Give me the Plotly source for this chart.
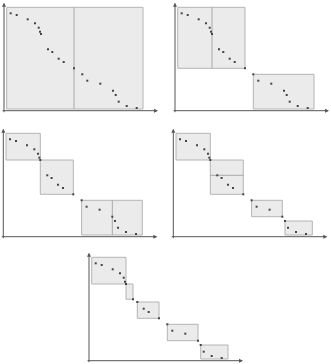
import plotly.graph_objects as go

W, H = 331, 364

# Shared point set (data units)
pts_x = [6.7, 12.7, 23.7, 31.0, 34.7, 36.0, 37.0, 44.0, 48.3, 54.7,
         59.7, 70.0, 78.3, 83.3, 96.3, 109.0, 111.7, 114.7, 122.7, 132.7]
pts_y = [97.4, 95.7, 91.4, 87.4, 83.0, 79.0, 76.7, 61.4, 58.7, 52.0,
         48.7, 42.4, 36.4, 30.0, 27.0, 20.0, 15.7, 9.0, 4.7, 2.7]
IDEAL = (2.7, 103.4)
NADIR = (139.0, 1.7)

def P(i):
    return (pts_x[i], pts_y[i])

# boxes per panel: (top-left corner, bottom-right corner, split)
panel_boxes = [
    [(IDEAL, NADIR, ("v", pts_x[11]))],
    [(IDEAL, P(11), ("v", pts_x[6])), (P(12), NADIR, None)],
    [(IDEAL, P(6), None), (P(6), P(11), None), (P(12), NADIR, ("v", pts_x[15]))],
    [(IDEAL, P(6), None), (P(6), P(11), ("h", pts_y[7])), (P(12), P(15), None), (P(16), NADIR, None)],
    [(IDEAL, P(6), None), (P(6), P(7), None), (P(8), P(11), None), (P(12), P(15), None), (P(16), NADIR, None)],
]

# panel layout in pixels: origin (ox, oy), region (L, R, T, B)
panels = [
    dict(ox=4.0, oy=110.7, L=0, R=162, T=0, B=117),
    dict(ox=175.0, oy=110.7, L=165, R=331, T=0, B=117),
    dict(ox=3.3, oy=236.7, L=0, R=162, T=120, B=243),
    dict(ox=173.3, oy=236.7, L=165, R=331, T=120, B=243),
    dict(ox=89.0, oy=360.7, L=80, R=256, T=244, B=364),
]

X_ARROW_END = 154
Y_ARROW_END = 108
AX_START = -3

fig = go.Figure()
shapes = []
annotations = []
layout = {}

for k, (pan, boxes) in enumerate(zip(panels, panel_boxes)):
    n = "" if k == 0 else str(k + 1)
    xa, ya = "x" + n, "y" + n
    layout["xaxis" + n] = dict(
        domain=[pan["L"] / W, pan["R"] / W],
        range=[pan["L"] - pan["ox"], pan["R"] - pan["ox"]],
        visible=False, anchor=ya, fixedrange=True)
    layout["yaxis" + n] = dict(
        domain=[1 - pan["B"] / H, 1 - pan["T"] / H],
        range=[pan["oy"] - pan["B"], pan["oy"] - pan["T"]],
        visible=False, anchor=xa, fixedrange=True)
    for (a, b, split) in boxes:
        shapes.append(dict(type="rect", xref=xa, yref=ya,
                           x0=a[0], x1=b[0], y0=b[1], y1=a[1],
                           fillcolor="#ebebeb", line=dict(color="#b4b4b4", width=1),
                           layer="below"))
        if split is not None:
            if split[0] == "v":
                shapes.append(dict(type="line", xref=xa, yref=ya,
                                   x0=split[1], x1=split[1], y0=b[1], y1=a[1],
                                   line=dict(color="#a8a8a8", width=1), layer="below"))
            else:
                shapes.append(dict(type="line", xref=xa, yref=ya,
                                   x0=a[0], x1=b[0], y0=split[1], y1=split[1],
                                   line=dict(color="#a8a8a8", width=1), layer="below"))
    # axes arrows
    annotations.append(dict(xref=xa, yref=ya, axref=xa, ayref=ya,
                            x=X_ARROW_END, y=0, ax=AX_START, ay=0, text="",
                            showarrow=True, arrowhead=2, arrowsize=0.8,
                            arrowwidth=1, arrowcolor="#555"))
    annotations.append(dict(xref=xa, yref=ya, axref=xa, ayref=ya,
                            x=0, y=Y_ARROW_END, ax=0, ay=AX_START, text="",
                            showarrow=True, arrowhead=2, arrowsize=0.8,
                            arrowwidth=1, arrowcolor="#555"))
    fig.add_trace(go.Scatter(x=pts_x, y=pts_y, mode="markers", xaxis=xa, yaxis=ya,
                             marker=dict(size=2, color="#444444", symbol="square"),
                             showlegend=False, hoverinfo="skip"))

fig.update_layout(width=W, height=H, margin=dict(l=0, r=0, t=0, b=0),
                  paper_bgcolor="white", plot_bgcolor="white",
                  shapes=shapes, annotations=annotations, **layout)
fig.write_html("out.html", config={"displayModeBar": False})
